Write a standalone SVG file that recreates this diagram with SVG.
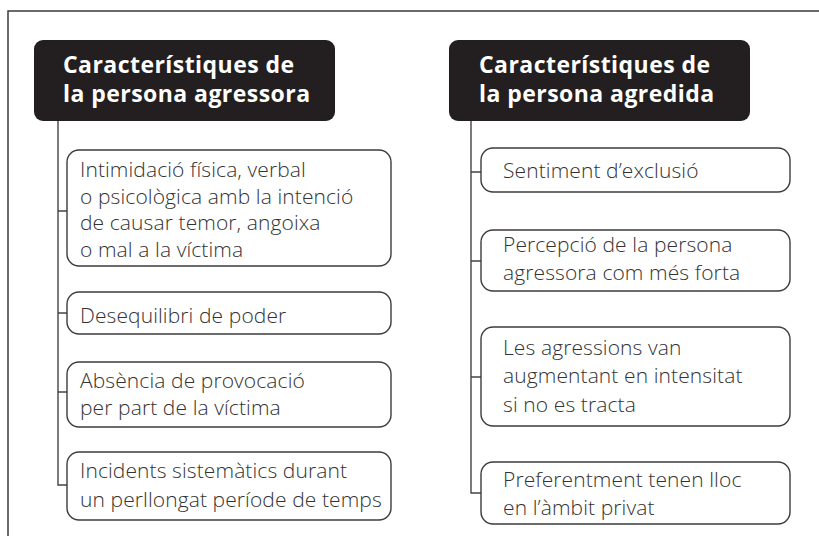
<svg xmlns="http://www.w3.org/2000/svg" width="819" height="536" viewBox="0 0 819 536">
<style>
.frame{fill:none;stroke:#3a3a3a;stroke-width:1.5}
.hdr{fill:#231f20}
.hdrt{font-family:"Open Sans","DejaVu Sans",sans-serif;font-weight:700;font-size:23px;letter-spacing:0.45px;fill:#ffffff}
.box{fill:#ffffff;stroke:#3c3c3c;stroke-width:1.4}
.t{font-family:"Open Sans","DejaVu Sans",sans-serif;font-weight:300;font-size:21px;letter-spacing:0.1px;fill:#333333}
.ln{fill:none;stroke:#444444;stroke-width:1.4}
</style>
<rect width="819" height="536" fill="#ffffff"/>
<path class="frame" d="M8 536 V11 H819"/>
<g id="connectors">
<path class="ln" d="M58 121 V485 H67 M58 211 H67 M58 313 H67 M58 392 H67"/>
<path class="ln" d="M471 121 V493 H481 M471 172 H481 M471 261 H481 M471 377 H481"/>
</g>
<g id="hdr-agressora">
<rect class="hdr" x="34" y="40" width="301" height="81" rx="9"/>
<text class="hdrt" x="63" y="73">Característiques de</text>
<text class="hdrt" x="63" y="102">la persona agressora</text>
</g>
<g id="hdr-agredida">
<rect class="hdr" x="449" y="40" width="301" height="81" rx="9"/>
<text class="hdrt" x="479" y="73">Característiques de</text>
<text class="hdrt" x="479" y="102">la persona agredida</text>
</g>
<g id="l1">
<rect class="box" x="67" y="150" width="324" height="116" rx="12"/>
<text class="t" x="80" y="177">Intimidació física, verbal</text>
<text class="t" x="80" y="203.5">o psicològica amb la intenció</text>
<text class="t" x="80" y="230">de causar temor, angoixa</text>
<text class="t" x="80" y="256.5">o mal a la víctima</text>
</g>
<g id="l2">
<rect class="box" x="67" y="292" width="324" height="42" rx="12"/>
<text class="t" x="80" y="323">Desequilibri de poder</text>
</g>
<g id="l3">
<rect class="box" x="67" y="362" width="324" height="65" rx="12"/>
<text class="t" x="80" y="388">Absència de provocació</text>
<text class="t" x="80" y="414.5">per part de la víctima</text>
</g>
<g id="l4">
<rect class="box" x="67" y="452" width="324" height="68" rx="12"/>
<text class="t" x="80" y="478">Incidents sistemàtics durant</text>
<text class="t" x="80" y="507">un perllongat període de temps</text>
</g>
<g id="r1">
<rect class="box" x="481" y="148" width="309" height="44" rx="12"/>
<text class="t" x="503" y="178">Sentiment d’exclusió</text>
</g>
<g id="r2">
<rect class="box" x="481" y="230" width="309" height="61" rx="12"/>
<text class="t" x="503" y="252">Percepció de la persona</text>
<text class="t" x="503" y="280">agressora com més forta</text>
</g>
<g id="r3">
<rect class="box" x="481" y="327" width="309" height="99" rx="12"/>
<text class="t" x="503" y="355">Les agressions van</text>
<text class="t" x="503" y="383">augmentant en intensitat</text>
<text class="t" x="503" y="412">si no es tracta</text>
</g>
<g id="r4">
<rect class="box" x="481" y="462" width="309" height="62" rx="12"/>
<text class="t" x="503" y="487">Preferentment tenen lloc</text>
<text class="t" x="503" y="515">en l’àmbit privat</text>
</g>
</svg>
